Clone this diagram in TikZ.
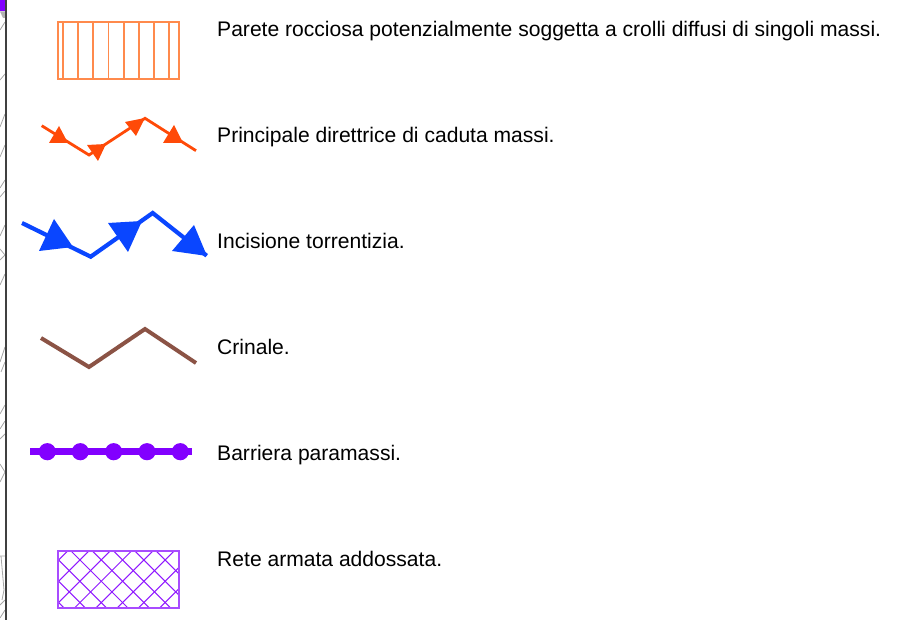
\documentclass[tikz,border=0pt]{standalone}
\usepackage{fontspec}
\setmainfont{Liberation Sans}
\definecolor{cOrange}{HTML}{FF8A4C}
\definecolor{cRed}{HTML}{FF4A08}
\definecolor{cBlue}{HTML}{0A46FF}
\definecolor{cBrown}{HTML}{8B5345}
\definecolor{cViolet}{HTML}{8200FF}
\tikzset{
 lab/.style={anchor=base west,inner sep=0pt,font=\fontsize{21.08}{25}\selectfont,text=black},
 sketch/.style={draw=black!35,line width=0.8pt},
 redline/.style={draw=cRed,line width=2.8pt,line join=miter},
 bluetip/.style={fill=cBlue,draw=none},
 redtip/.style={fill=cRed,draw=none}
}
\begin{document}
\begin{tikzpicture}[x=1pt,y=-1pt]
\useasboundingbox (0,0) rectangle (906,620);
% left edge
\fill[cViolet] (0,0) rectangle (6,11.5);
\fill[black!30] (0,11.5) -- (6,11.5) -- (6,18) -- (3,18) -- cycle;
\draw[sketch] (0,30) -- (5,22) (0,80) -- (5,74) (0,127) -- (5,114) (0,157) -- (5,145) (0,188) -- (5,180) (0,197) -- (5,191)
 (0,236) -- (5,225) (0,249) -- (5,255) -- (0,260) (0,285) -- (5,274) (0,362) -- (5,347) (1,372) -- (5,362) (0,414) -- (5,405)
 (0,429) -- (5,421) (0,439) -- (5,434) (0,464) -- (5,472) -- (0,482) (0,556) -- (5,556) (1,556) -- (4,590) -- (2,600) (0,605) -- (5,600) (0,618) -- (5,610);
\draw[black!75,line width=1.6pt] (5.7,0) -- (5.7,620);
% row 1
\draw[cOrange,line width=1.6pt] (58,22) rectangle (179,79);
\foreach \x in {62.8,78,93,108.3,123.8,138.8,154,169}
  \draw[cOrange,line width=1.6pt] (\x,22) -- (\x,79);
% row 2
\draw[redline] (41.7,125.7) -- (89,155) -- (145,118.3) -- (196,150.7);
\fill[redtip] (59,126) -- (49,143) -- (68,143) -- cycle;
\fill[redtip] (87,145) -- (106,144) -- (98,161) -- cycle;
\fill[redtip] (125,122) -- (145,118) -- (136,136) -- cycle;
\fill[redtip] (174,125) -- (163,143) -- (183,143) -- cycle;
% row 3
\draw[cBlue,line width=4.2pt] (22,223) -- (90.7,256.7) -- (152.7,213) -- (206.7,255.7);
\fill[bluetip] (54,219) -- (39,251) -- (73,247) -- cycle;
\fill[bluetip] (108,223) -- (142,221) -- (128,252) -- cycle;
\fill[bluetip] (194,225) -- (172,251) -- (207,256) -- cycle;
% row 4
\draw[cBrown,line width=4pt] (41,338) -- (89,367) -- (145,329) -- (196,363);
% row 5
\draw[cViolet,line width=7pt] (30,451.7) -- (192,451.7);
\foreach \x in {47.3,80.3,113.7,147,180.3}
  \fill[cViolet] (\x,451.7) circle (8.6);
% row 6
\begin{scope}
\clip (58,551) rectangle (179,608);
\foreach \k in {-4,...,6}
 \draw[cViolet!90,line width=1pt] (71+21.3*\k,551) -- ++(70,70);
\foreach \k in {0,...,9}
 \draw[cViolet!90,line width=1pt] (67.6+21.3*\k,551) -- ++(-70,70);
\end{scope}
\draw[cViolet!70,line width=1.1pt] (58,551) rectangle (179,608);
% labels
\node[lab] (t1) at (217,37) {Parete rocciosa potenzialmente soggetta a crolli diffusi di singoli massi.};
\node[lab] (t2) at (217,143) {Principale direttrice di caduta massi.};
\node[lab] (t3) at (217,249) {Incisione torrentizia.};
\node[lab] (t4) at (217,355) {Crinale.};
\node[lab] (t5) at (217,460.5) {Barriera paramassi.};
\node[lab] (t6) at (217,566.5) {Rete armata addossata.};
\end{tikzpicture}
\end{document}
